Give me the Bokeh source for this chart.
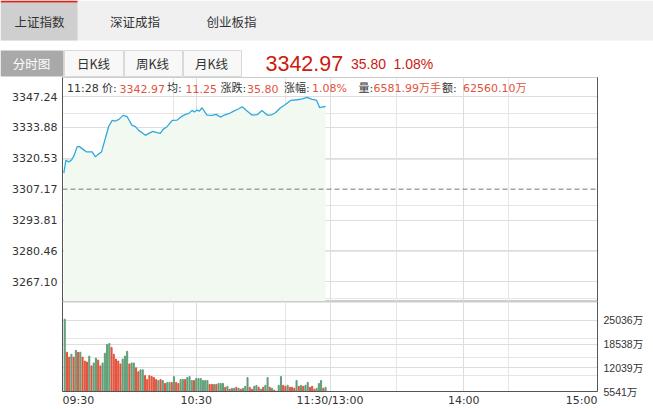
from bokeh.plotting import figure
from bokeh.layouts import column
from bokeh.models import (Range1d, LinearAxis, FixedTicker, Grid, Span, Label, LabelSet,
                          ColumnDataSource, NumeralTickFormatter)
from bokeh.core.properties import value
from bokeh.embed import file_html
from bokeh.resources import INLINE

# ---------------- data ----------------
index_tabs = ["上证指数", "深证成指", "创业板指"]
chart_tabs = ["分时图", "日K线", "周K线", "月K线"]
last_price = "3342.97"
change_abs = "35.80"
change_pct = "1.08%"
base_price = 3307.17
price_ticks = [3267.10, 3280.46, 3293.81, 3307.17, 3320.53, 3333.88, 3347.24]
time_ticks = [0, 60, 120, 180, 240]
time_labels = ["09:30", "10:30", "11:30/13:00", "14:00", "15:00"]
vol_ticks = [5541, 12039, 18538, 25036]

# minutes after 09:30 and index level
minutes = [0.6, 1.5, 2.8, 4.0, 5.1, 6.6, 7.6, 8.8, 10.8, 13.3, 14.8, 15.8, 17.5, 19.3,
           20.8, 22.3, 23.8, 25.3, 27.2, 29.0, 31.2, 32.7, 34.2, 35.7, 37.2, 38.7,
           40.6, 42.4, 43.9, 45.1, 46.9, 49.2, 51.4, 53.7, 55.2, 56.7, 58.1, 59.2,
           60.4, 61.4, 62.6, 64.8, 67.1, 69.0, 70.8, 72.6, 74.6, 76.8, 79.1, 80.6,
           82.8, 85.0, 87.3, 89.5, 91.8, 93.6, 95.5, 97.8, 100.0, 102.3, 105.3,
           107.5, 109.8, 112.0, 113.9, 115.4, 117.2, 118.0]
prices = [3314.07, 3319.67, 3318.95, 3319.67, 3321.54, 3325.56, 3325.56, 3324.70,
          3323.26, 3323.26, 3321.11, 3322.11, 3323.26, 3329.44, 3334.47, 3336.92,
          3336.63, 3337.35, 3339.07, 3338.50, 3334.76, 3334.19, 3332.60, 3331.60,
          3330.45, 3331.31, 3332.17, 3331.60, 3331.31, 3333.04, 3334.19, 3336.92,
          3337.06, 3338.78, 3339.50, 3339.93, 3341.23, 3340.51, 3341.37, 3340.94,
          3342.38, 3339.22, 3339.07, 3339.50, 3338.35, 3339.22, 3339.79, 3340.94,
          3341.95, 3342.81, 3340.94, 3339.22, 3339.36, 3341.23, 3339.22, 3339.22,
          3340.22, 3342.38, 3343.81, 3345.54, 3345.83, 3346.26, 3346.83, 3345.97,
          3345.68, 3342.38, 3342.81, 3342.97]

vol_minutes = list(range(1, 119))
volumes = [25388, 16310, 14975, 15776, 14975, 16844, 16310, 16310, 14975, 13907,
           13640, 15242, 12572, 13373, 14708, 14174, 12572, 13373, 16043, 18446,
           18713, 17645, 15776, 14441, 13907, 13106, 14441, 15242, 16577, 13106,
           13373, 13373, 12038, 10970, 11504, 11504, 9902, 8834, 9902, 9635,
           9368, 8834, 8567, 8834, 8567, 7766, 8033, 8033, 8033, 9635,
           8033, 7766, 8834, 8834, 8834, 9368, 9635, 8567, 8567, 9101,
           9101, 9101, 8567, 8567, 8567, 7499, 7499, 7499, 7499, 7766,
           7766, 7766, 6698, 6965, 6164, 6431, 6431, 6698, 6431, 6164,
           6431, 6965, 9368, 6698, 6164, 6965, 7232, 6698, 6164, 6698,
           7232, 9368, 6698, 6431, 5897, 5630, 7232, 9635, 7232, 6965,
           7232, 6698, 6698, 6431, 8567, 6965, 7232, 6965, 7232, 8033,
           6698, 6965, 6164, 6431, 7766, 8567, 6431, 6698]
vol_dirs = ("GRRGRGRGRR" "RGRGGRRGGG" "GRRRRRGGGR" "GGRRGGRRRR" "RRGRGRGGRG"
            "RRGGRGGGRG" "GGGGGRRGRG" "GGRGRGGRGR" "GGGRRGGRGR" "GGRGRRGGRR"
            "GRRRGRGRGG" "RRRGGGRG")

info_parts = [("11:28", 0), ("价:", 0), ("3342.97", 1), ("均:", 0), ("11.25", 1),
              ("涨跌:", 0), ("35.80", 1), ("涨幅:", 0), ("1.08%", 1), ("量:", 0),
              ("6581.99万手", 1), ("额:", 0), ("62560.10万", 1)]

# ---------------- styles / layout constants ----------------
RED = "#e2533d"
GREEN = "#5f9f78"
DARK = "#333333"
GRID = "#dddddd"
LINE = "#2fa8dc"
FONT = "DejaVu Sans, Noto Sans CJK SC"
CJK = "Noto Sans CJK SC"

W = 653
FRAME_L, FRAME_R = 62, 56           # borders of the chart frames inside the figure
PX_PER_UNIT = 185.3 / (price_ticks[-1] - price_ticks[0])
y_max = price_ticks[-1] + 19.0 / PX_PER_UNIT
y_min = price_ticks[0] - 19.7 / PX_PER_UNIT
PRICE_H = 224
PX_PER_MIN = 535 / 240.0

# ---------------- header ----------------
hdr = figure(width=W, height=77, x_range=Range1d(0, 653), y_range=Range1d(77, 0),
             x_axis_location=None, y_axis_location=None, toolbar_location=None,
             output_backend="svg", min_border=0, outline_line_color=None)
hdr.grid.visible = False
hdr.quad(left=[0], right=[653], top=[0], bottom=[40], fill_color="#f0f0f0", line_color=None)
hdr.quad(left=[0], right=[77], top=[2], bottom=[40], fill_color="#cfcfcf", line_color=None)
hdr.quad(left=[0], right=[77], top=[0], bottom=[2], fill_color="#d9251c", line_color=None)
hdr.text(x=[39, 134.5, 231], y=[21, 21, 21], text=index_tabs, text_align="center",
         text_baseline="middle", text_font=value(CJK), text_font_size="12.5px",
         text_color=DARK)
hdr.quad(left=[0], right=[63], top=[50], bottom=[76], fill_color="#a9a9a9", line_color=None)
hdr.quad(left=[64, 124, 183], right=[123, 182, 241], top=[50] * 3, bottom=[76] * 3,
         fill_color="#f8f8f8", line_color="#d9d9d9")
hdr.text(x=[31, 93, 152, 211], y=[63] * 4, text=chart_tabs, text_align="center",
         text_baseline="middle", text_font=value(CJK), text_font_size="12.5px",
         text_color=["#ffffff", DARK, DARK, DARK])
hdr.text(x=[265], y=[63], text=[last_price], text_baseline="middle",
         text_font=value("Liberation Sans"), text_font_size="21.5px", text_color="#cc1a10")
hdr.text(x=[350.5, 393], y=[63, 63], text=[change_abs, change_pct], text_baseline="middle",
         text_font=value("Liberation Sans"), text_font_size="14px", text_color="#cc1a10")

# ---------------- price chart ----------------
p = figure(width=W, height=PRICE_H, x_range=Range1d(0, 240), y_range=Range1d(y_min, y_max),
           x_axis_location=None, y_axis_location=None, toolbar_location=None,
           output_backend="svg", min_border_left=FRAME_L, min_border_right=FRAME_R,
           min_border_top=0, min_border_bottom=0, outline_line_color="#cccccc")
p.add_layout(Grid(dimension=0, ticker=FixedTicker(ticks=[60, 120, 180]),
                  grid_line_color=GRID))
p.add_layout(Grid(dimension=1, ticker=FixedTicker(ticks=[t for t in price_ticks if t != base_price]),
                  grid_line_color=GRID))
p.varea(x=minutes, y1=y_min, y2=prices, fill_color="#f1f9f1")
p.add_layout(Span(location=base_price, dimension="width", line_color="#777777",
                  line_dash="5 3", line_width=1))
p.line(minutes, prices, line_color=LINE, line_width=1.3)

ly = LinearAxis(ticker=FixedTicker(ticks=price_ticks),
                formatter=NumeralTickFormatter(format="0.00"),
                axis_line_color="#555555", major_tick_out=0, major_tick_in=0,
                minor_tick_out=0, minor_tick_in=0, major_label_standoff=5,
                major_label_text_font=FONT, major_label_text_font_size="11px",
                major_label_text_color=DARK)
p.add_layout(ly, "left")
ry = LinearAxis(ticker=FixedTicker(ticks=[]), axis_line_color="#555555",
                major_tick_out=0, major_tick_in=0, minor_tick_out=0, minor_tick_in=0,
                major_label_text_font_size="0px")
p.add_layout(ry, "right")

pct_vals = [(t / base_price - 1) * 100 for t in price_ticks]
pct_src = ColumnDataSource(dict(
    x=[240] * len(price_ticks), y=price_ticks,
    text=["%.2f%%" % abs(v) for v in pct_vals],
    color=[RED if v > 0.001 else (GREEN if v < -0.001 else "#999999") for v in pct_vals]))
p.add_layout(LabelSet(x="x", y="y", text="text", source=pct_src, x_offset=6, y_offset=-1,
                      text_align="left", text_baseline="middle", text_color="color",
                      text_font=value(FONT), text_font_size="11px"))

# info line inside the top of the price frame
info_x = [66.5, 101.5, 119, 166.5, 185, 220, 246.5, 283.5, 311.5, 358, 373, 441.5, 462.5]
info_y = y_max - 11.0 * (y_max - y_min) / PRICE_H
for (txt, is_val), px in zip(info_parts, info_x):
    p.add_layout(Label(x=(px - 62) / PX_PER_MIN, y=info_y, text=txt,
                       text_baseline="middle", text_align="left",
                       text_font=FONT, text_font_size="11px",
                       text_color=RED if is_val else DARK))

# ---------------- volume chart ----------------
vol_min, vol_max = vol_ticks[0], 30240
v = figure(width=W, height=108, x_range=p.x_range, y_range=Range1d(vol_min, vol_max),
           x_axis_location=None, y_axis_location=None, toolbar_location=None,
           output_backend="svg", min_border_left=FRAME_L, min_border_right=FRAME_R,
           min_border_top=0, min_border_bottom=15, outline_line_color="#cccccc")
v.add_layout(Grid(dimension=0, ticker=FixedTicker(ticks=[60, 120, 180]), grid_line_color=GRID))
v.add_layout(Grid(dimension=1, ticker=FixedTicker(ticks=vol_ticks[1:]), grid_line_color=GRID))
v.vbar(x=vol_minutes, width=0.47, top=volumes, bottom=vol_min,
       color=[GREEN if d == "G" else RED for d in vol_dirs])

half0 = 31.7 / 2 / PX_PER_MIN
label_pos = [time_ticks[0] + half0, time_ticks[1], time_ticks[2], time_ticks[3],
             time_ticks[4] - half0]
xa = LinearAxis(ticker=FixedTicker(ticks=label_pos),
                major_label_overrides={pos: lab for pos, lab in zip(label_pos, time_labels)},
                axis_line_color="#555555", major_tick_out=0, major_tick_in=0,
                minor_tick_out=0, minor_tick_in=0, major_label_standoff=2,
                major_label_text_font=FONT, major_label_text_font_size="11px",
                major_label_text_color=DARK)
v.add_layout(xa, "below")
vl = LinearAxis(ticker=FixedTicker(ticks=[]), axis_line_color="#555555",
                major_tick_out=0, major_tick_in=0, minor_tick_out=0, minor_tick_in=0,
                major_label_text_font_size="0px")
v.add_layout(vl, "left")
vr = LinearAxis(ticker=FixedTicker(ticks=vol_ticks),
                major_label_overrides={t: "%d万" % t for t in vol_ticks},
                axis_line_color="#555555", major_tick_out=0, major_tick_in=0,
                minor_tick_out=0, minor_tick_in=0, major_label_standoff=6,
                major_label_text_font="Liberation Sans, Noto Sans CJK SC",
                major_label_text_font_size="10.5px", major_label_text_color=DARK)
v.add_layout(vr, "right")

layout = column(hdr, column(p, v, spacing=0), spacing=0)
open("out.html", "w").write(file_html(layout, INLINE))
